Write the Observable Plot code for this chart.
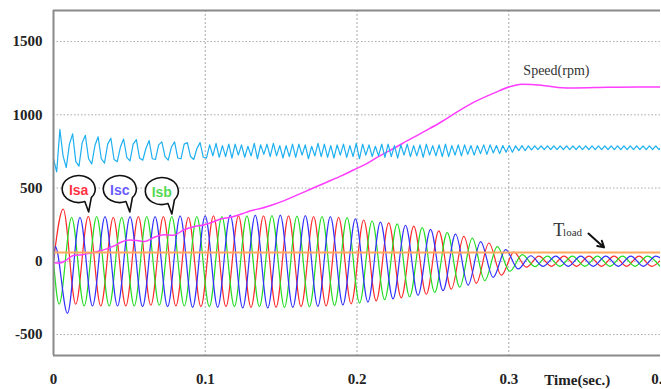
<!DOCTYPE html>
<html><head><meta charset="utf-8">
<script src="https://cdn.jsdelivr.net/npm/d3@7"></script>
<script src="https://cdn.jsdelivr.net/npm/@observablehq/plot@0.6"></script>
<style>body{margin:0;background:#fff} svg{display:block}</style>
</head><body><div id="chart"></div>
<script>
// axes
const xTicks = [0, 0.1, 0.2, 0.3, 0.4];
const xGrid = [0.1, 0.2, 0.3];
const yTicks = [-500, 0, 500, 1000, 1500];
const xDomain = [0, 0.4];
const yDomain = [-643, 1712];

// stator currents: extrema every half cycle
const halfCycle = 0.00825;
const isaLead = [[0, 0]];
const isaStart = 0.0064;
const isaValues = [357,-293,307,-305,300,-305,305,-300,305,-305,
  300,-310,310,-310,310,-315,310,-315,310,-310,
  305,-305,300,-290,282,-270,262,-250,240,-225,
  208,-190,170,-150,125,-95,62,-40,36,-34,
  36,-34,36,-34,36,-34,36,-34,36];
const isbLead = [[0, 0]];
const isbStart = 0.0037;
const isbValues = [-293,300,-305,305,-305,300,-305,305,-300,305,
  -305,305,-310,305,-310,310,-310,312,-315,308,
  -310,305,-302,298,-285,275,-262,255,-242,230,
  -212,196,-176,158,-132,100,-68,45,-36,36,
  -34,36,-34,36,-34,36,-34,36,-34];
const iscLead = [[0, 0], [0.0012, 100]];
const iscStart = 0.0092;
const iscValues = [-355,300,-305,305,-305,305,-310,305,-310,310,
  -315,310,-315,315,-318,315,-318,315,-315,312,
  -308,305,-298,290,-278,268,-256,246,-232,218,
  -200,185,-162,135,-110,80,-52,38,-34,36,
  -34,36,-34,36,-34,36,-34,36,-34];

// speed (rpm)
const speedT = [0,0.004,0.008,0.013,0.019,0.024,0.030,0.035,0.040,0.044,
  0.050,0.055,0.060,0.066,0.073,0.079,0.086,0.093,0.099,0.105,
  0.110,0.117,0.124,0.130,0.137,0.145,0.152,0.160,0.170,0.180,
  0.190,0.198,0.207,0.215,0.225,0.2335,0.245,0.2554,0.266,0.2774,
  0.2906,0.3017,0.3083,0.3215,0.3325,0.3434,0.3655,0.385,0.400];
const speedV = [-10,-12,5,40,45,55,70,85,105,128,
  145,142,135,163,182,178,215,238,248,268,
  289,300,323,345,362,388,414,450,495,540,
  585,625,670,720,775,825,890,951,1020,1088,
  1150,1195,1208,1202,1187,1183,1188,1190,1190];

// cyan trace, sampled every torqueStep seconds
const torqueStep = 0.0021;
const torqueValues = [
  700,610,900,720, 640,800,870,680, 650,810,860,700, 665,790,850,700,
  670,800,840,695, 680,780,835,710, 685,800,830,705, 690,770,825,700,
  695,795,815,715, 690,780,815,705, 700,800,810,715, 695,770,810,710,
  705,795,720,805, 710,790,715,800, 705,800,725,795, 710,785,720,805,
  700,795,730,800, 715,805,720,790, 705,790,715,800, 710,800,725,795,
  700,785,720,805, 715,800,710,790, 705,795,725,800, 710,790,715,805,
  700,800,725,795, 715,785,720,800, 710,800,715,790, 705,795,725,800,
  715,790,720,795, 710,800,725,790, 720,795,715,800, 715,790,725,795,
  720,795,730,790, 725,790,735,795, 730,795,740,790, 735,790,745,790,
  745,788,755,790, 755,788,760,788, 762,788,762,788, 762,788,762,788,
  762,788,762,788, 762,788,762,788, 762,788,762,788, 762,788,762,788,
  762,788,762,788, 762,788,762,788, 762,788,762,788, 762,788,762,788];

const tloadValue = 60;

// annotations
const bubbles = [
  {label: "Isa", t: 0.0169, v: 490, color: "#ff3344"},
  {label: "Isc", t: 0.0440, v: 490, color: "#6a5cff"},
  {label: "Isb", t: 0.0717, v: 476, color: "#55d855"}
];
const speedLabel = {text: "Speed(rpm)", t: 0.3314, v: 1302};
const timeLabel = {text: "Time(sec.)", t: 0.3452, v: -814};
const tloadLabel = {t: 0.3330, v: 215, sub: "load", tSub: 0.3358, vSub: 196};
const tloadArrow = {t1: 0.3525, v1: 189, t2: 0.3628, v2: 95};

const series = (lead, start, vals) =>
  lead.map(([t, v]) => ({t, v})).concat(vals.map((v, i) => ({t: start + i * halfCycle, v})));
const isa = series(isaLead, isaStart, isaValues);
const isb = series(isbLead, isbStart, isbValues);
const isc = series(iscLead, iscStart, iscValues);
const speed = speedT.map((t, i) => ({t, v: speedV[i]}));
const torque = torqueValues.map((v, i) => ({t: i * torqueStep, v}));

const serif = "'Liberation Serif','Times New Roman',serif";
const plot = Plot.plot({
  width: 661, height: 389,
  marginLeft: 53, marginRight: 1, marginTop: 10, marginBottom: 34,
  style: {fontFamily: serif, fontSize: "15px", fontWeight: "bold", background: "white", color: "#222"},
  x: {domain: xDomain, ticks: xTicks, tickSize: 0, tickPadding: 18, label: null, tickFormat: d => String(d)},
  y: {domain: yDomain, ticks: yTicks, tickSize: 0, tickPadding: 11, label: null, tickFormat: d => String(d)},
  marks: [
    Plot.ruleY(yTicks, {stroke: "#aaa", strokeDasharray: "1.5,2", strokeWidth: 1}),
    Plot.ruleX(xGrid, {stroke: "#aaa", strokeDasharray: "2,2", strokeWidth: 1}),
    Plot.line(isa, {x: "t", y: "v", stroke: "#ff2a2a", strokeWidth: 1.2, curve: "monotone-x", clip: true}),
    Plot.line(isb, {x: "t", y: "v", stroke: "#22dd22", strokeWidth: 1.2, curve: "monotone-x", clip: true}),
    Plot.line(isc, {x: "t", y: "v", stroke: "#2f2fff", strokeWidth: 1.2, curve: "monotone-x", clip: true}),
    Plot.line(speed, {x: "t", y: "v", stroke: "#ff3cff", strokeWidth: 1.5, curve: "monotone-x", clip: true}),
    Plot.ruleY([tloadValue], {stroke: "#ffa860", strokeWidth: 2}),
    Plot.line(torque, {x: "t", y: "v", stroke: "#1db0f0", strokeWidth: 1.2, clip: true}),
    Plot.ruleX([xDomain[0]], {stroke: "#8a8a8a", strokeWidth: 2}),
    Plot.ruleY([yDomain[0], yDomain[1]], {stroke: "#8a8a8a", strokeWidth: 2}),
    Plot.text([speedLabel], {x: "t", y: "v", text: "text", fontSize: 14, fontWeight: "normal", fill: "#333", fontFamily: serif}),
    Plot.text([timeLabel], {x: "t", y: "v", text: "text", fontSize: 15, fontWeight: "bold", fill: "#222", fontFamily: serif}),
    Plot.text([tloadLabel], {x: "t", y: "v", text: () => "T", fontSize: 18, fontWeight: "normal", fill: "#333", fontFamily: serif}),
    Plot.text([tloadLabel], {x: "tSub", y: "vSub", text: "sub", fontSize: 11, fontWeight: "normal", fill: "#333", textAnchor: "start", fontFamily: serif}),
    Plot.arrow([tloadArrow], {x1: "t1", y1: "v1", x2: "t2", y2: "v2", stroke: "#111", strokeWidth: 2, headLength: 7, bend: 0})
  ]
});

const sx = plot.scale("x"), sy = plot.scale("y");
const g = d3.select(plot).append("g");
for (const b of bubbles) {
  const cx = sx.apply(b.t), cy = sy.apply(b.v);
  const rx = 16.5, ry = 13.5;
  const p = a => [cx + rx * Math.cos(a * Math.PI / 180), cy + ry * Math.sin(a * Math.PI / 180)];
  const [x1, y1] = p(68), [x2, y2] = p(40);
  g.append("path")
    .attr("d", `M${x1},${y1}A${rx},${ry} 0 1 1 ${x2},${y2}L${cx + 10},${cy + 23}Z`)
    .attr("fill", "white").attr("stroke", "#111").attr("stroke-width", 1.6).attr("stroke-linejoin", "round");
  g.append("text").attr("x", cx).attr("y", cy + 1)
    .attr("text-anchor", "middle").attr("dominant-baseline", "central")
    .attr("font-family", "'Liberation Sans',Arial,sans-serif").attr("font-size", 14).attr("font-weight", "bold")
    .attr("fill", b.color).text(b.label);
}
document.getElementById("chart").appendChild(plot);
</script>
</body></html>
